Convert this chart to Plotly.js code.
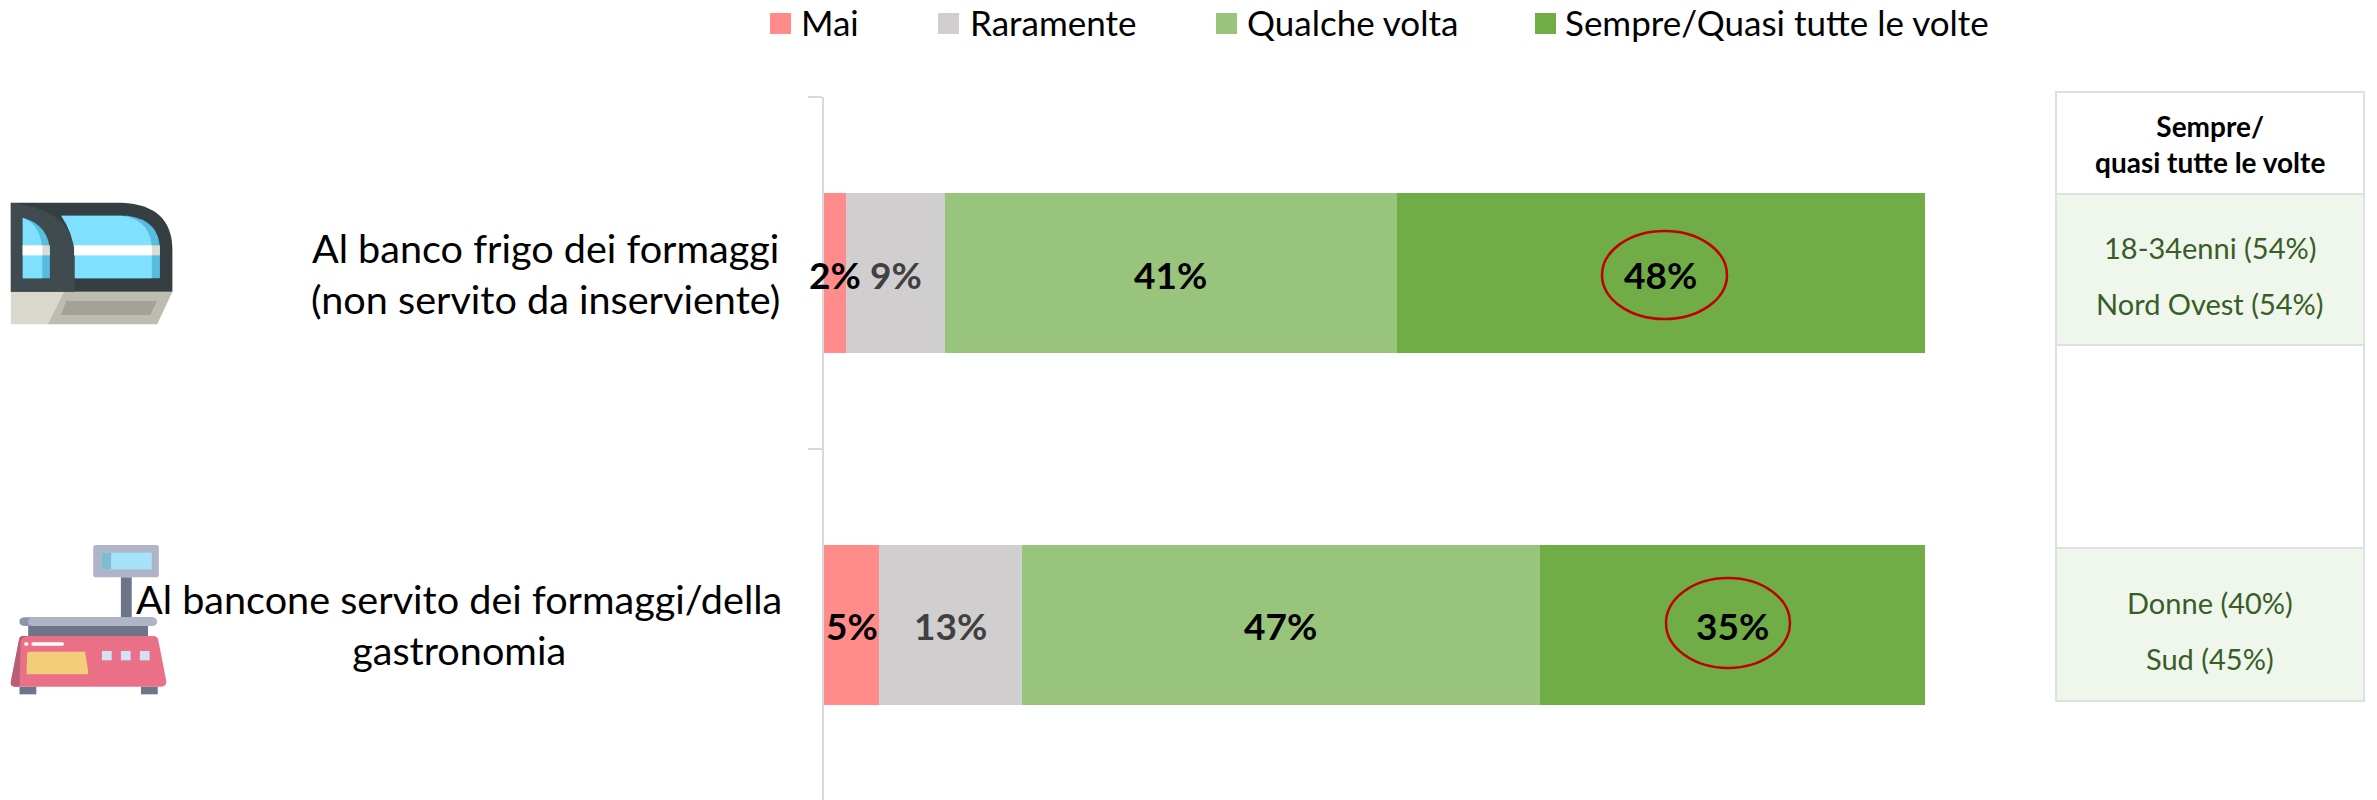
<!DOCTYPE html>
<html><head><meta charset="utf-8">
<script src="https://cdn.plot.ly/plotly-3.0.1.min.js"></script>
<style>html,body{margin:0;padding:0;background:#fff}</style></head>
<body><div id="chart" style="width:2377px;height:800px"></div>
<script>
const categories = ["Al banco frigo dei formaggi<br>(non servito da inserviente)", "Al bancone servito dei formaggi/della<br>gastronomia"];
const seriesNames = ["Mai", "Raramente", "Qualche volta", "Sempre/Quasi tutte le volte"];
const mai = [2, 5];
const raramente = [9, 13];
const qualcheVolta = [41, 47];
const sempre = [48, 35];
const seriesColors = ["#ff8b8b", "#d0cece", "#98c47c", "#70ad47"];
const labelColors = ["#000000", "#404040", "#000000", "#000000"];
const tableHeader = "Sempre/<br>quasi tutte le volte";
const tableRows = [["18-34enni (54%)", "Nord Ovest (54%)"], ["Donne (40%)", "Sud (45%)"]];

const W = 2377, H = 800, L = 824, R = 1925, T = 97;
const PX = x => (x - L) / (R - L), PY = y => 1 - (y - T) / (H - T);
const FONT = "Lato, sans-serif";
const values = [mai, raramente, qualcheVolta, sempre];
const traces = values.map((v, i) => ({
  type: "bar", orientation: "h", name: seriesNames[i], y: categories, x: v,
  marker: {color: seriesColors[i], line: {width: 0}}, hoverinfo: "skip", showlegend: false
}));
// value labels are annotations on the data axes, so a label wider than its segment stays on top of the next one
const valueLabels = [];
categories.forEach((c, k) => {
  let run = 0;
  values.forEach((v, i) => {
    valueLabels.push({xref: "x", yref: "y", x: run + v[k] / 2, y: k, yshift: -1, text: v[k] + "%", showarrow: false,
      xanchor: "center", yanchor: "middle", font: {family: FONT, size: 37, weight: 700, color: labelColors[i]}});
    run += v[k];
  });
});

const icon1 = `<svg xmlns="http://www.w3.org/2000/svg" viewBox="0 0 1568 660" preserveAspectRatio="none" width="850" height="220">
<path d="M20 425H118L88 523H20Z" fill="#d8d8cc"/><path d="M118 425H318L290 523H88Z" fill="#bcbcb2"/><path d="M122 453H290L277 495H113Z" fill="#a2a299"/>
<path d="M20 158H225Q318 165 318 300V425H20Z" fill="#353e41"/><path d="M20 158Q138 180 138 320V425H20Z" fill="#3f4b4e"/>
<path d="M42 203Q92 225 92 310V385H42Z" fill="#56bde0"/><path d="M42 203Q78 225 78 310V385H42Z" fill="#7fe0ff"/>
<path d="M113 197H235Q295 210 295 300V385H138V310Q135 250 113 197Z" fill="#56bde0"/><path d="M113 197H225Q280 210 280 300V385H138V310Q135 250 113 197Z" fill="#7fe0ff"/>
<rect x="42" y="286" width="50" height="30" fill="#dcdcd2"/><rect x="42" y="286" width="36" height="30" fill="#fff"/>
<rect x="137" y="286" width="158" height="30" fill="#dcdcd2"/><rect x="137" y="286" width="143" height="30" fill="#fff"/></svg>`;
const icon2 = `<svg xmlns="http://www.w3.org/2000/svg" viewBox="0 0 1568 660" preserveAspectRatio="none" width="850" height="220">
<rect x="172" y="135" width="121" height="97" rx="6" fill="#afb4c8"/><rect x="187" y="158" width="93" height="50" fill="#a5e3fb"/><rect x="187" y="158" width="18" height="50" fill="#7fbccc"/>
<rect x="223" y="232" width="20" height="120" fill="#6f7588"/><rect x="36" y="352" width="253" height="26" rx="10" fill="#8f94a8"/><rect x="52" y="352" width="237" height="26" rx="10" fill="#afb4c8"/>
<rect x="52" y="378" width="221" height="30" fill="#6f7588"/><rect x="36" y="560" width="31" height="23" fill="#6f7588"/><rect x="260" y="560" width="31" height="23" fill="#6f7588"/>
<path d="M42 408H283Q290 408 292 420L307 545Q307 560 295 560H30Q18 560 20 545L35 420Q36 408 42 408Z" fill="#ea7087"/>
<path d="M42 408H52Q38 412 38 430L36 560H30Q18 560 20 545L35 420Q36 408 42 408Z" fill="#b85f75"/>
<path d="M55 455H157L163 518Q163 523 158 523H52Q48 523 49 518L50 460Q50 455 55 455Z" fill="#f3cd7a"/>
<rect x="188" y="453" width="18" height="28" fill="#d4e1f4"/><rect x="223" y="453" width="18" height="28" fill="#d4e1f4"/><rect x="258" y="453" width="18" height="28" fill="#d4e1f4"/>
<rect x="58" y="427" width="60" height="10" rx="4" fill="#fff"/><rect x="45" y="427" width="7" height="10" rx="3" fill="#fff"/></svg>`;
const uri = s => "data:image/svg+xml;charset=utf-8," + encodeURIComponent(s);
const images = [[icon1, 0, 150], [icon2, 0, 500]].map(([s, x, y]) => ({
  source: uri(s), xref: "paper", yref: "paper", x: PX(x), y: PY(y), sizex: 850 / (R - L), sizey: 220 / (H - T),
  sizing: "stretch", xanchor: "left", yanchor: "top", layer: "below"
}));

const rectPx = (x0, y0, x1, y1, fill, line, lw) => ({type: "rect", xref: "paper", yref: "paper",
  x0: PX(x0), x1: PX(x1), y0: PY(y0), y1: PY(y1), fillcolor: fill, line: {color: line, width: lw}, layer: "below"});
const ellipse = (x0, y0, x1, y1) => ({type: "circle", xref: "paper", yref: "paper", x0: PX(x0), x1: PX(x1), y0: PY(y0), y1: PY(y1),
  line: {color: "#c00000", width: 2.5}, fillcolor: "rgba(0,0,0,0)"});
const B = "#e0e0e0";
const legendX = [770, 938, 1216, 1535];
const legendTextX = [799, 968, 1245, 1563];
const shapes = [
  rectPx(2056, 92, 2364, 701, "#ffffff", B, 2),
  rectPx(2056, 194, 2364, 345, "#eff6ec", B, 2),
  rectPx(2056, 548, 2364, 701, "#eff6ec", B, 2),
  ellipse(1602, 231, 1727, 319),
  ellipse(1666, 578, 1790, 668)
].concat(legendX.map((x, i) => ({type: "rect", xref: "paper", yref: "paper", x0: PX(x), x1: PX(x + 21), y0: PY(13), y1: PY(34),
  fillcolor: seriesColors[i], line: {width: 0}})));

const txt = (x, y, text, size, color, weight, anchor) => ({xref: "paper", yref: "paper", x: PX(x), y: PY(y), text, showarrow: false,
  xanchor: anchor || "center", yanchor: "middle", align: "center",
  font: {family: FONT, size, color, weight: weight || 400}});
const G = "#385d27";
const annotations = [
  txt(545, 273, categories[0], 39.6, "#000"),
  txt(459, 624, categories[1], 39.6, "#000"),
  txt(2210, 144, tableHeader, 28, "#000", 700),
  txt(2210, 247, tableRows[0][0], 29, G),
  txt(2210, 303, tableRows[0][1], 29, G),
  txt(2210, 602, tableRows[1][0], 29, G),
  txt(2210, 658, tableRows[1][1], 29, G)
].concat(seriesNames.map((n, i) => txt(legendTextX[i], 22, n, 35, "#000", 400, "left"))).concat(valueLabels);

const layout = {
  width: W, height: H, paper_bgcolor: "#fff", plot_bgcolor: "rgba(0,0,0,0)",
  margin: {l: L, r: W - R, t: T, b: 0, pad: 0},
  barmode: "stack", bargap: 0.545, showlegend: false,
  xaxis: {range: [0, 100], visible: false, fixedrange: true},
  yaxis: {type: "category", categoryorder: "array", categoryarray: categories, autorange: false, range: [1.4972, -0.5],
    tickson: "boundaries", ticks: "outside", ticklen: 14, tickcolor: "#d9d9d9", tickwidth: 2,
    showline: true, linecolor: "#d9d9d9", linewidth: 2, showgrid: false, zeroline: false, showticklabels: false, fixedrange: true},
  shapes, annotations, images
};
Plotly.newPlot("chart", traces, layout, {displayModeBar: false, staticPlot: true});
</script></body></html>
